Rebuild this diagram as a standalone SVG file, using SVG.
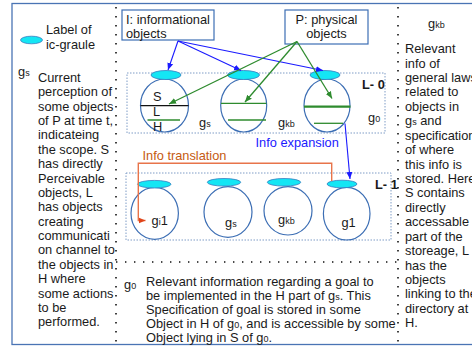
<svg xmlns="http://www.w3.org/2000/svg" width="472" height="347" viewBox="0 0 472 347">
<style>
text{font-family:"Liberation Sans",Arial,sans-serif;font-size:12.8px;fill:#1a1a1a}
.sub{font-size:9px}
.bold{font-weight:bold}
.frame{fill:none;stroke:#4a74b4;stroke-width:1.3}
.box{fill:#fff;stroke:#3c6eb4;stroke-width:1.2}
.dotv{fill:none;stroke:#111;stroke-width:1.6;stroke-dasharray:1.4 7.6}
.grp{fill:none;stroke:#7f9cc6;stroke-width:1;stroke-dasharray:1.5 1.5}
.cyan{fill:#14e6f4;stroke:#3a7bbf;stroke-width:0.8}
.circ{fill:none;stroke:#3c6eb4;stroke-width:1.2}
.g{stroke:#2e8b2e;stroke-width:1.3;fill:none}
.blue{stroke:#1a1aff;stroke-width:1.1;fill:none}
.or{stroke:#e8744a;stroke-width:1.4;fill:none}
</style>
<defs>
<marker id="ab" markerUnits="userSpaceOnUse" markerWidth="8" markerHeight="8" refX="7" refY="4" orient="auto"><path d="M0,1 L7,4 L0,7 z" fill="#1a1aff"/></marker>
<marker id="ag" markerUnits="userSpaceOnUse" markerWidth="8" markerHeight="8" refX="7" refY="4" orient="auto"><path d="M0,1 L7,4 L0,7 z" fill="#2e8b2e"/></marker>
<marker id="ao" markerUnits="userSpaceOnUse" markerWidth="8" markerHeight="8" refX="7" refY="4" orient="auto"><path d="M0,1 L7,4 L0,7 z" fill="#e0441a"/></marker>
</defs>
<rect width="472" height="347" fill="#fff"/>
<rect class="frame" x="12" y="3.5" width="470" height="341"/>
<g id="dividers">
<line class="dotv" x1="116" y1="7" x2="116" y2="345"/>
<line class="dotv" x1="398" y1="7" x2="398" y2="345"/>
<line class="dotv" x1="116" y1="262" x2="398" y2="262"/>
</g>
<g id="legend">
<ellipse class="cyan" cx="31.5" cy="40" rx="11" ry="3.8"/>
<text x="46" y="34">Label of</text>
<text x="46" y="49">ic-graule</text>
</g>
<g id="left-text">
<text x="18" y="76">g<tspan class="sub">s</tspan></text>
<text x="38" y="82"><tspan x="38">Current</tspan><tspan x="38" dy="14.37">perception of</tspan><tspan x="38" dy="14.37">some objects</tspan><tspan x="38" dy="14.37">of P at time t,</tspan><tspan x="38" dy="14.37">indicateing</tspan><tspan x="38" dy="14.37">the scope. S</tspan><tspan x="38" dy="14.37">has directly</tspan><tspan x="38" dy="14.37">Perceivable</tspan><tspan x="38" dy="14.37">objects, L</tspan><tspan x="38" dy="14.37">has objects</tspan><tspan x="38" dy="14.37">creating</tspan><tspan x="38" dy="14.37">communicati</tspan><tspan x="38" dy="14.37">on channel to</tspan><tspan x="38" dy="14.37">the objects in</tspan><tspan x="38" dy="14.37">H where</tspan><tspan x="38" dy="14.37">some actions</tspan><tspan x="38" dy="14.37">to be</tspan><tspan x="38" dy="14.37">performed.</tspan></text>
</g>
<g id="right-text">
<text x="428" y="28">g<tspan class="sub">kb</tspan></text>
<text x="405" y="53.2"><tspan x="405">Relevant</tspan><tspan x="405" dy="14.42">info of</tspan><tspan x="405" dy="14.42">general laws</tspan><tspan x="405" dy="14.42">related to</tspan><tspan x="405" dy="14.42">objects in</tspan><tspan x="405" dy="14.42">g<tspan class="sub">s</tspan> and</tspan><tspan x="405" dy="14.42">specification</tspan><tspan x="405" dy="14.42">of where</tspan><tspan x="405" dy="14.42">this info is</tspan><tspan x="405" dy="14.42">stored. Here</tspan><tspan x="405" dy="14.42">S contains</tspan><tspan x="405" dy="14.42">directly</tspan><tspan x="405" dy="14.42">accessable</tspan><tspan x="405" dy="14.42">part of the</tspan><tspan x="405" dy="14.42">storeage, L</tspan><tspan x="405" dy="14.42">has the</tspan><tspan x="405" dy="14.42">objects</tspan><tspan x="405" dy="14.42">linking to the</tspan><tspan x="405" dy="14.42">directory at</tspan><tspan x="405" dy="14.42">H.</tspan></text>
</g>
<g id="bottom-text">
<text x="124" y="289">g<tspan class="sub">0</tspan></text>
<text x="146" y="285.5"><tspan x="146">Relevant information regarding a goal to</tspan><tspan x="146" dy="14">be implemented in the H part of g<tspan class="sub">s</tspan>. This</tspan><tspan x="146" dy="14">Specification of goal is stored in some</tspan><tspan x="146" dy="14">Object in H of g<tspan class="sub">0</tspan>, and is accessible by some</tspan><tspan x="146" dy="14">Object lying in S of g<tspan class="sub">0</tspan>.</tspan></text>
</g>
<g id="I-box">
<rect class="box" x="122" y="10" width="92" height="30"/>
<text x="126" y="24">I: informational</text>
<text x="126" y="38">objects</text>
</g>
<g id="P-box">
<rect class="box" x="285" y="10" width="83" height="34"/>
<text x="326.5" y="24" text-anchor="middle">P: physical</text>
<text x="326.5" y="38" text-anchor="middle">objects</text>
</g>
<g id="L0">
<rect class="grp" x="127" y="73" width="258" height="60"/>
<text class="bold" x="362" y="89">L- 0</text>
<text x="368" y="122">g<tspan class="sub">0</tspan></text>
</g>
<g id="L0-gs">
<ellipse class="circ" cx="164.5" cy="105.5" rx="24" ry="26.5"/>
<line x1="140.5" y1="105.7" x2="188.5" y2="105.7" stroke="#111" stroke-width="1.3"/>
<line class="g" x1="147.5" y1="120" x2="180" y2="120"/>
<text x="153" y="101">S</text>
<text x="153" y="115.5">L</text>
<text x="153" y="131">H</text>
<ellipse class="cyan" cx="166" cy="75" rx="15" ry="4.5"/>
<text x="199" y="127">g<tspan class="sub">s</tspan></text>
</g>
<g id="L0-gkb">
<ellipse class="circ" cx="243.7" cy="105.5" rx="23" ry="26.5"/>
<line class="g" x1="221" y1="103.3" x2="266.5" y2="103.3"/>
<line class="g" x1="228" y1="120" x2="266" y2="120"/>
<ellipse class="cyan" cx="243.5" cy="75" rx="16" ry="4.5"/>
<text x="278" y="127">g<tspan class="sub">kb</tspan></text>
</g>
<g id="L0-g0">
<ellipse class="circ" cx="327" cy="105.5" rx="23" ry="26.5"/>
<line x1="304" y1="106.7" x2="350.5" y2="106.7" stroke="#2e8b2e" stroke-width="2.2"/>
<line class="g" x1="314" y1="123.3" x2="343" y2="123.3"/>
<ellipse class="cyan" cx="325" cy="75" rx="15" ry="4.5"/>
</g>
<g id="L1">
<rect class="grp" x="126" y="173" width="265" height="67"/>
<text class="bold" x="375" y="189">L- 1</text>
</g>
<g id="L1-gi1">
<ellipse class="circ" cx="154.7" cy="213.3" rx="23.7" ry="26"/>
<ellipse class="cyan" cx="154.3" cy="184.2" rx="16.7" ry="3.8"/>
<text x="151.5" y="225">g<tspan class="sub">i</tspan>1</text>
</g>
<g id="L1-gs">
<ellipse class="circ" cx="228" cy="212" rx="24" ry="25.3"/>
<ellipse class="cyan" cx="224" cy="182.3" rx="16.7" ry="3.8"/>
<text x="225" y="227">g<tspan class="sub">s</tspan></text>
</g>
<g id="L1-gkb">
<ellipse class="circ" cx="288" cy="210.8" rx="24" ry="24.2"/>
<ellipse class="cyan" cx="284" cy="182.3" rx="16.7" ry="3.8"/>
<text x="278" y="224">g<tspan class="sub">kb</tspan></text>
</g>
<g id="L1-g1">
<ellipse class="circ" cx="346.7" cy="213.7" rx="23.3" ry="26.3"/>
<ellipse class="cyan" cx="342" cy="184" rx="15" ry="3.8"/>
<text x="341.5" y="227">g1</text>
</g>
<g id="connectors">
<line class="blue" x1="178" y1="41" x2="168" y2="70" marker-end="url(#ab)"/>
<line class="blue" x1="178" y1="41" x2="241" y2="70.5" marker-end="url(#ab)"/>
<line class="blue" x1="178" y1="41" x2="323" y2="70.5" marker-end="url(#ab)"/>
<line class="g" x1="297" y1="41.5" x2="169" y2="104" marker-end="url(#ag)"/>
<line class="g" x1="297" y1="41.5" x2="245" y2="102" marker-end="url(#ag)"/>
<line class="g" x1="297" y1="41.5" x2="332" y2="98.5" marker-end="url(#ag)"/>
<line class="blue" x1="345" y1="123.5" x2="350" y2="179" marker-end="url(#ab)"/>
<path class="or" d="M331.7,181 V163.3 H138.3 V220.5 H145.5" marker-end="url(#ao)"/>
<text x="255.5" y="146.5" style="fill:#1a1aff">Info expansion</text>
<text x="142.5" y="159.5" style="fill:#c55a11">Info translation</text>
</g>
</svg>
